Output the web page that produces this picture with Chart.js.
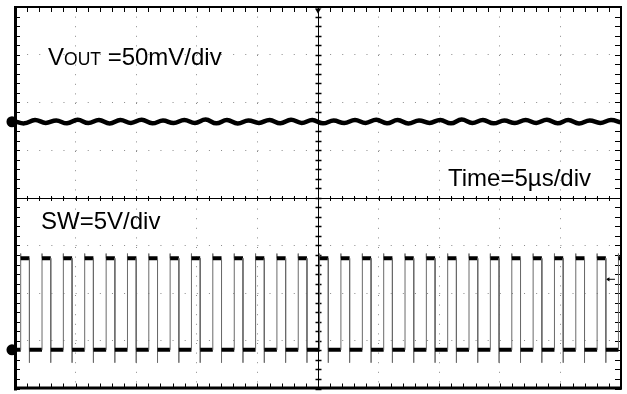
<!DOCTYPE html>
<html><head><meta charset="utf-8">
<script src="https://cdn.jsdelivr.net/npm/chart.js@4/dist/chart.umd.min.js"></script>
<style>
html,body{margin:0;padding:0;background:#fff;}
#wrap{position:relative;width:627px;height:394px;overflow:hidden;}
canvas{position:absolute;left:0;top:0;}
.lbl{position:absolute;font-family:"Liberation Sans",Arial,sans-serif;font-size:24px;line-height:24px;color:#000;white-space:nowrap;}
.sc{font-size:17.5px;}
</style></head><body>
<div id="wrap"><canvas id="c" width="627" height="394"></canvas>
<div class="lbl" style="left:48px;top:45px">V<span class="sc">OUT</span> =50mV/div</div>
<div class="lbl" style="left:448px;top:166px">Time=5µs/div</div>
<div class="lbl" style="left:41px;top:209px">SW=5V/div</div>
</div>
<script>
// axis ranges: time in microseconds (5 µs/div, 10 div), vertical in divisions (8 div)
const timeRangeUs = [0, 50];
const vertRangeDiv = [-4, 4];
const timeTickStepUs = 5;
const vertTickStepDiv = 1;

// VOUT trace (divisions above centre), read at ripple peaks/troughs
const voutTimeUs = [0, 0.77, 1.65, 2.53, 3.41, 4.29, 5.17, 6.05, 6.93, 7.81, 8.69, 9.57, 10.45, 11.33, 12.21, 13.09, 13.97, 14.85, 15.73, 16.61, 17.49, 18.37, 19.25, 20.13, 21.01, 21.89, 22.77, 23.65, 24.53, 25.41, 26.29, 27.17, 28.05, 28.93, 29.81, 30.69, 31.57, 32.45, 33.33, 34.21, 35.09, 35.97, 36.85, 37.73, 38.61, 39.49, 40.37, 41.25, 42.13, 43.01, 43.89, 44.77, 45.65, 46.53, 47.41, 48.29, 49.17, 50];
const voutDiv = [1.60, 1.56, 1.63, 1.57, 1.62, 1.56, 1.635, 1.565, 1.63, 1.555, 1.63, 1.57, 1.635, 1.56, 1.62, 1.565, 1.63, 1.57, 1.64, 1.56, 1.63, 1.555, 1.62, 1.57, 1.63, 1.56, 1.635, 1.57, 1.63, 1.56, 1.62, 1.565, 1.63, 1.57, 1.635, 1.56, 1.63, 1.555, 1.62, 1.57, 1.63, 1.56, 1.64, 1.57, 1.63, 1.56, 1.62, 1.565, 1.63, 1.57, 1.635, 1.56, 1.63, 1.555, 1.62, 1.57, 1.63, 1.58];

// SW trace: switching edges (µs) and levels (div)
const swRiseUs = [0.47, 2.23, 3.99, 5.75, 7.52, 9.28, 11.04, 12.80, 14.56, 16.32, 18.09, 19.85, 21.61, 23.37, 25.13, 26.89, 28.66, 30.42, 32.18, 33.94, 35.70, 37.46, 39.22, 40.99, 42.75, 44.51, 46.27, 48.03, 49.79];
const swFallUs = [1.19, 2.95, 4.71, 6.47, 8.24, 10.00, 11.76, 13.52, 15.28, 17.04, 18.81, 20.57, 22.33, 24.09, 25.85, 27.61, 29.38, 31.14, 32.90, 34.66, 36.42, 38.18, 39.94, 41.71, 43.47, 45.23, 46.99, 48.75];
const swHighDiv = -1.27;
const swLowDiv = -3.19;
const swSpikeUpDiv = -1.17;
const swSpikeDownDiv = -3.46;

// channel ground markers and trigger markers
const ch1MarkerDiv = 1.594;
const ch2MarkerDiv = -3.19;
const markerTimeUs = -0.25;
const triggerLevelDiv = -1.71;
const triggerTimeUs = 25;

const voutData = voutTimeUs.map((t, i) => ({x: t, y: voutDiv[i]}));

const swData = [{x: timeRangeUs[0], y: swLowDiv}];
swRiseUs.forEach((r, i) => {
  swData.push({x: r, y: swLowDiv}, {x: r, y: swSpikeUpDiv}, {x: r, y: swHighDiv});
  const f = swFallUs[i];
  if (f !== undefined && f < timeRangeUs[1]) {
    swData.push({x: f, y: swHighDiv}, {x: f, y: swSpikeDownDiv}, {x: f, y: swLowDiv});
  } else {
    swData.push({x: timeRangeUs[1], y: swHighDiv});
  }
});
const lastPt = swData[swData.length - 1];
if (lastPt.x < timeRangeUs[1]) swData.push({x: timeRangeUs[1], y: lastPt.y});

const isEdge = c => Math.abs(c.p1.parsed.x - c.p0.parsed.x) < 0.001;

const scopeFrame = {
  id: 'scopeFrame',
  beforeDatasetsDraw(chart) {
    const {ctx, chartArea: a, scales: {x, y}} = chart;
    ctx.save();
    ctx.strokeStyle = '#000';
    const line = (x1, y1, x2, y2, w) => { ctx.lineWidth = w; ctx.beginPath(); ctx.moveTo(x1, y1); ctx.lineTo(x2, y2); ctx.stroke(); };
    const cx = Math.round(x.getPixelForValue(triggerTimeUs)) + 0.5;
    const cy = Math.round(y.getPixelForValue(0)) + 0.5;
    line(cx, a.top, cx, a.bottom, 1);
    line(a.left, cy, a.right, cy, 1);
    for (let i = 0; i <= 50; i++) {
      const px = Math.round(x.getPixelForValue(i)) + 0.5;
      line(px, a.bottom - 5, px, a.bottom, 1);
      line(px, a.top, px, a.top + 5, 1);
      line(px, cy - 2.5, px, cy + 2.5, 1);
    }
    for (let i = -20; i <= 20; i++) {
      const py = Math.round(y.getPixelForValue(i / 5)) + 0.5;
      line(a.left, py, a.left + 5, py, 1);
      line(a.right - 6, py, a.right, py, 1);
      line(cx - 3, py, cx + 3, py, 1.5);
    }
    line(a.left + 0.5, a.top - 1, a.left + 0.5, a.bottom + 2, 3);
    line(a.left - 1, a.bottom - 0.5, a.right + 1, a.bottom - 0.5, 3);
    line(a.left - 1, a.top, a.right + 1, a.top, 2);
    line(a.right, a.top - 1, a.right, a.bottom + 1, 2);
    ctx.restore();
  }
};

new Chart(document.getElementById('c'), {
  type: 'line',
  data: {
    datasets: [
      {
        label: 'VOUT', data: voutData, borderColor: '#000', borderWidth: 4.5,
        pointRadius: 0, tension: 0.4, fill: false
      },
      {
        label: 'SW', data: swData, borderColor: '#000', borderWidth: 4,
        pointRadius: 0, tension: 0, fill: false, borderCapStyle: 'butt', borderJoinStyle: 'bevel',
        segment: {
          borderColor: c => isEdge(c) ? '#6a6a6a' : '#000',
          borderWidth: c => isEdge(c) ? 1 : 4
        }
      },
      {
        type: 'scatter', label: 'ground markers',
        data: [{x: markerTimeUs, y: ch1MarkerDiv}, {x: markerTimeUs, y: ch2MarkerDiv}],
        pointRadius: 5.5, pointBackgroundColor: '#000', pointBorderColor: '#000', pointBorderWidth: 0,
        showLine: false, clip: false
      },
      {
        type: 'scatter', label: 'trigger position',
        data: [{x: triggerTimeUs, y: 3.93}],
        pointStyle: 'triangle', rotation: 180, pointRadius: 3.5,
        pointBackgroundColor: '#000', pointBorderColor: '#000', pointBorderWidth: 0,
        showLine: false, clip: false
      },
      {
        type: 'scatter', label: 'trigger level',
        data: [{x: 48.95, y: triggerLevelDiv}],
        pointStyle: 'triangle', rotation: 270, pointRadius: 2.5,
        pointBackgroundColor: '#000', pointBorderColor: '#000', pointBorderWidth: 0,
        showLine: false, clip: false
      },
      {
        label: 'trigger level tail',
        data: [{x: 48.95, y: triggerLevelDiv}, {x: 49.5, y: triggerLevelDiv}],
        borderColor: '#000', borderWidth: 1, pointRadius: 0
      }
    ]
  },
  options: {
    responsive: false,
    animation: false,
    events: [],
    layout: {padding: {left: 15, top: 7, right: 6, bottom: 3}},
    plugins: {legend: {display: false}, tooltip: {enabled: false}, title: {display: false}},
    scales: {
      x: {
        type: 'linear', min: timeRangeUs[0], max: timeRangeUs[1],
        ticks: {display: false, stepSize: timeTickStepUs},
        grid: {color: '#8a8a8a', lineWidth: 1, drawTicks: false},
        border: {display: false, dash: [1, 8.6], dashOffset: 0}
      },
      y: {
        type: 'linear', min: vertRangeDiv[0], max: vertRangeDiv[1],
        ticks: {display: false, stepSize: vertTickStepDiv},
        grid: {color: '#8a8a8a', lineWidth: 1, drawTicks: false},
        border: {display: false, dash: [1, 11.12], dashOffset: 0}
      }
    }
  },
  plugins: [scopeFrame]
});
</script>
</body></html>
